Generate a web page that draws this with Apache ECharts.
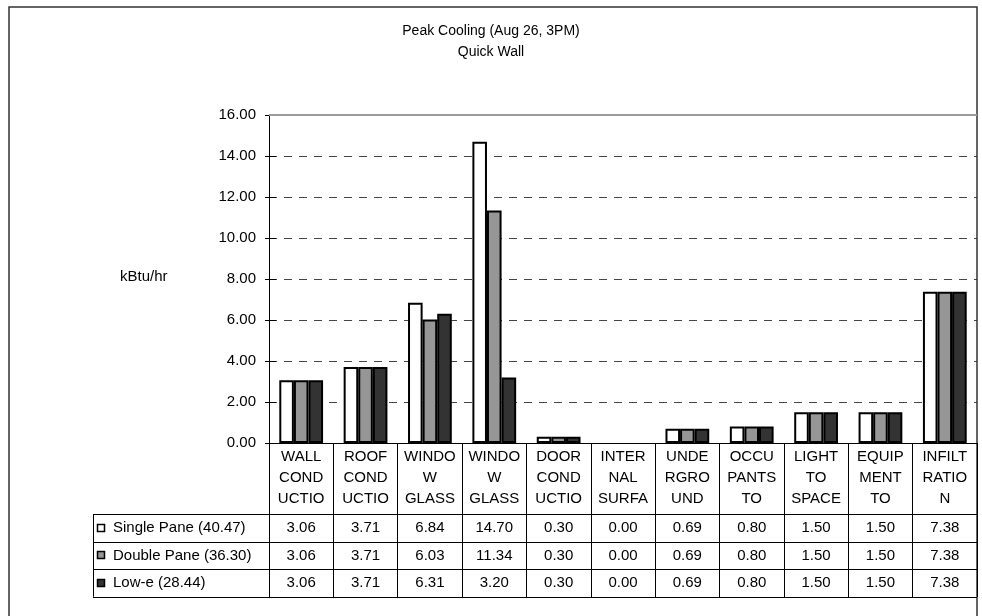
<!DOCTYPE html>
<html>
<head>
<meta charset="utf-8">
<script src="https://cdn.jsdelivr.net/npm/echarts@6/dist/echarts.min.js"></script>
<style>
  html, body { margin: 0; padding: 0; background: #fff; }
  #chart { width: 982px; height: 616px; }
</style>
</head>
<body>
<div id="chart"></div>
<script>
// Load components of the peak cooling hour, per glazing option
const categories = [
  'WALL\nCOND\nUCTIO', 'ROOF\nCOND\nUCTIO', 'WINDO\nW\nGLASS', 'WINDO\nW\nGLASS',
  'DOOR\nCOND\nUCTIO', 'INTER\nNAL\nSURFA', 'UNDE\nRGRO\nUND', 'OCCU\nPANTS\nTO',
  'LIGHT\nTO\nSPACE', 'EQUIP\nMENT\nTO', 'INFILT\nRATIO\nN'
];
const seriesNames = ['Single Pane (40.47)', 'Double Pane (36.30)', 'Low-e (28.44)'];
const singlePane = [3.06, 3.71, 6.84, 14.70, 0.30, 0.00, 0.69, 0.80, 1.50, 1.50, 7.38];
const doublePane = [3.06, 3.71, 6.03, 11.34, 0.30, 0.00, 0.69, 0.80, 1.50, 1.50, 7.38];
const lowE       = [3.06, 3.71, 6.31, 3.20, 0.30, 0.00, 0.69, 0.80, 1.50, 1.50, 7.38];
const seriesColors = ['#ffffff', '#969696', '#333333'];
const titleLines = ['Peak Cooling (Aug 26, 3PM)', 'Quick Wall'];
const yAxisTitle = 'kBtu/hr';

const FONT = '"Liberation Sans", Arial, sans-serif';
const allSeries = [singlePane, doublePane, lowE];

const chart = echarts.init(document.getElementById('chart'), null, { renderer: 'canvas' });

// zero loads get no outline so nothing shows on the baseline
function barData(vals) {
  return vals.map(v => v === 0 ? { value: v, itemStyle: { borderWidth: 0 } } : v);
}

const valueAxisBase = { type: 'value', min: 0, max: 16, interval: 2 };

const option = {
  animation: false,
  backgroundColor: '#ffffff',
  textStyle: { fontFamily: FONT, color: '#000' },
  title: {
    text: titleLines.join('\n'),
    left: 'center',
    top: 16,
    textStyle: { fontFamily: FONT, fontSize: 14, fontWeight: 'normal', color: '#000', lineHeight: 21 }
  },
  legend: { show: false },
  grid: { left: 269, right: 5, top: 115, bottom: 173, containLabel: false },
  xAxis: {
    type: 'category',
    data: categories,
    boundaryGap: true,
    axisLine: { show: true, lineStyle: { color: '#000', width: 1 } },
    axisTick: { show: true, interval: 0, alignWithLabel: false, length: 154, lineStyle: { color: '#000', width: 1 } },
    axisLabel: {
      interval: 0, margin: 3, fontFamily: FONT, fontSize: 15, lineHeight: 21, color: '#000', align: 'center'
    },
    splitLine: { show: false }
  },
  yAxis: [
    Object.assign({}, valueAxisBase, {
      axisLine: { show: true, lineStyle: { color: '#000', width: 1 } },
      axisTick: { show: true, length: 4, lineStyle: { color: '#000', width: 1 } },
      axisLabel: {
        margin: 13, fontFamily: FONT, fontSize: 15, color: '#000',
        formatter: v => v.toFixed(2)
      },
      splitLine: { show: true, lineStyle: { color: '#444', width: 1, type: [8, 7] } }
    }),
    // inner half of the crossing tick marks
    Object.assign({}, valueAxisBase, {
      position: 'left',
      axisLine: { show: false },
      axisTick: { show: true, inside: true, length: 7, lineStyle: { color: '#000', width: 1 } },
      axisLabel: { show: false },
      splitLine: { show: false }
    })
  ],
  series: allSeries.map((vals, i) => ({
    name: seriesNames[i],
    type: 'bar',
    yAxisIndex: 0,
    data: barData(vals),
    barGap: '0%',
    barCategoryGap: '32%',
    itemStyle: { color: seriesColors[i], borderColor: '#000', borderWidth: 2 }
  }))
};

chart.setOption(option);

// Data table, legend keys, frame and top plot edge placed with the axis scales
function buildGraphics() {
  const g = [];
  const x0 = chart.convertToPixel({ xAxisIndex: 0 }, 0);
  const x1 = chart.convertToPixel({ xAxisIndex: 0 }, 1);
  const step = x1 - x0;
  const leftEdge = x0 - step / 2;
  const rightEdge = leftEdge + step * categories.length;
  const yZero = chart.convertToPixel({ yAxisIndex: 0 }, 0);
  const yTop = chart.convertToPixel({ yAxisIndex: 0 }, 16);

  const headerH = 71;
  const rowH = 27.6;
  const tableTop = yZero + headerH;
  const legendLeft = 93;

  // outer frame
  g.push({ type: 'rect', shape: { x: 9, y: 7, width: 968, height: 620 },
    style: { fill: null, stroke: '#333', lineWidth: 1.5 }, z: 0, silent: true });

  // top edge of plot area
  g.push({ type: 'line', shape: { x1: leftEdge, y1: yTop, x2: rightEdge, y2: yTop },
    style: { stroke: '#9a9a9a', lineWidth: 2 }, z: 5 });

  // horizontal table rules
  for (let r = 0; r <= allSeries.length; r++) {
    const y = Math.round(tableTop + r * rowH) + 0.5;
    g.push({ type: 'line', shape: { x1: legendLeft, y1: y, x2: rightEdge, y2: y },
      style: { stroke: '#000', lineWidth: 1 }, z: 5 });
  }
  // legend column left rule
  g.push({ type: 'line', shape: { x1: legendLeft + 0.5, y1: tableTop, x2: legendLeft + 0.5, y2: tableTop + rowH * allSeries.length },
    style: { stroke: '#000', lineWidth: 1 }, z: 5 });

  allSeries.forEach((vals, r) => {
    const cy = tableTop + r * rowH + rowH / 2;
    // legend key
    g.push({ type: 'rect', shape: { x: 97.5, y: Math.round(cy - 4) + 0.5, width: 7, height: 7 },
      style: { fill: seriesColors[r], stroke: '#000', lineWidth: 1.5 }, z: 6 });
    g.push({ type: 'text', x: 113, y: cy, style: {
      text: seriesNames[r], font: '15px ' + FONT, fill: '#000', textAlign: 'left', textVerticalAlign: 'middle'
    }, z: 6 });
    vals.forEach((v, c) => {
      const cx = chart.convertToPixel({ xAxisIndex: 0 }, c);
      g.push({ type: 'text', x: cx, y: cy, style: {
        text: v.toFixed(2), font: '15px ' + FONT, fill: '#000', textAlign: 'center', textVerticalAlign: 'middle'
      }, z: 6 });
    });
  });

  // value axis title
  const yMid = chart.convertToPixel({ yAxisIndex: 0 }, 8);
  g.push({ type: 'text', x: 120, y: yMid - 2, style: {
    text: yAxisTitle, font: '15px ' + FONT, fill: '#000', textAlign: 'left', textVerticalAlign: 'middle'
  }, z: 6 });

  chart.setOption({ graphic: { elements: g } });
}

buildGraphics();
</script>
</body>
</html>
